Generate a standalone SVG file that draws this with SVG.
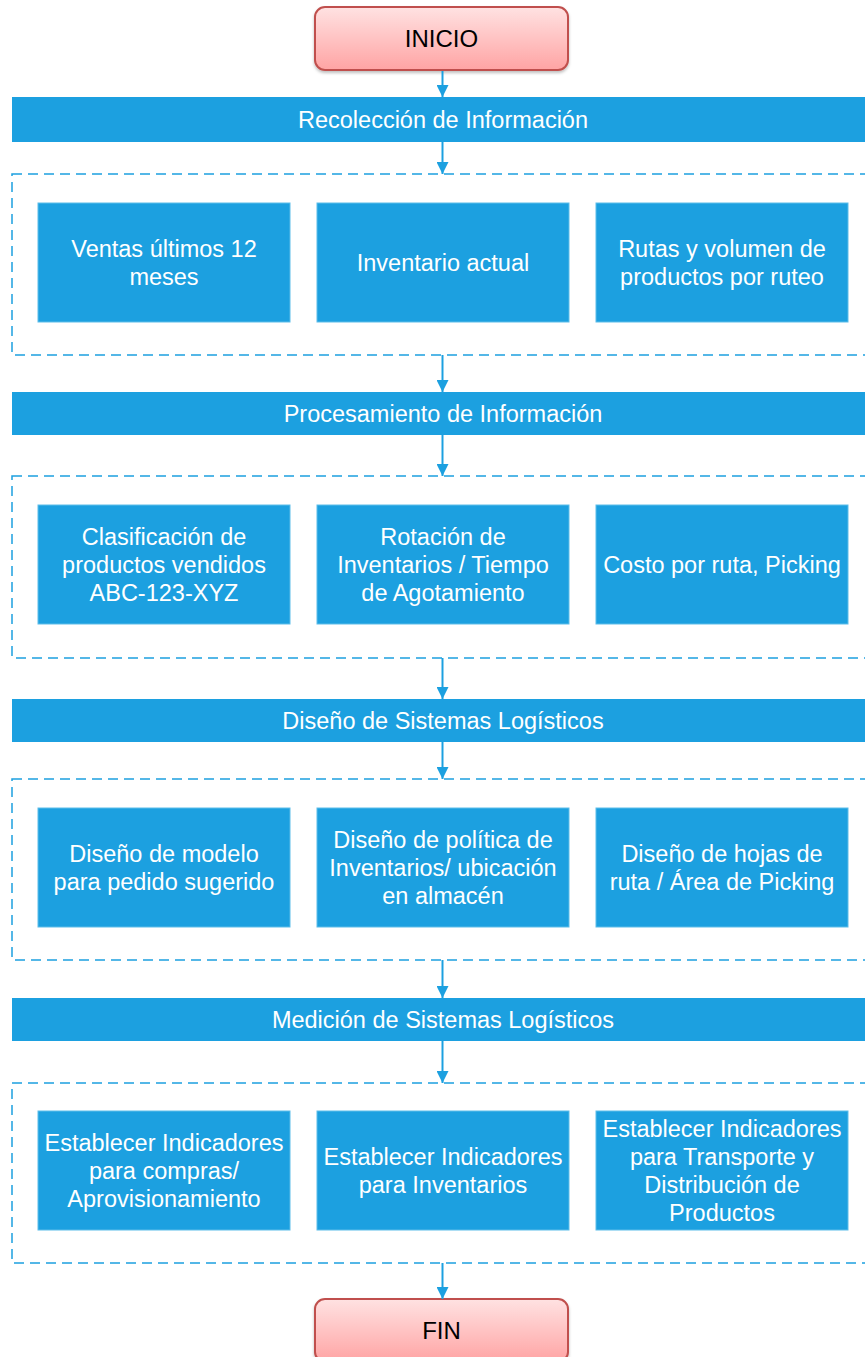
<svg xmlns="http://www.w3.org/2000/svg" width="865" height="1357" viewBox="0 0 865 1357">
<defs>
<linearGradient id="pink" x1="0" y1="0" x2="0" y2="1">
<stop offset="0" stop-color="#ffe2e2"/>
<stop offset="1" stop-color="#ffa4a4"/>
</linearGradient>
<marker id="ah" markerUnits="userSpaceOnUse" markerWidth="12" markerHeight="12" refX="12" refY="6" orient="auto">
<path d="M0,0 L12,6 L0,12 z" fill="#1ca0e0"/>
</marker>
<filter id="sh" x="-10%" y="-10%" width="120%" height="130%">
<feDropShadow dx="0" dy="2" stdDeviation="1.5" flood-color="#000" flood-opacity="0.25"/>
</filter>
</defs>
<style>
.term{fill:url(#pink);stroke:#c0504d;stroke-width:2;}
.termtxt{font-family:"Liberation Sans",Arial,sans-serif;font-size:24px;fill:#000;text-anchor:middle;}
.bar{fill:#1ca0e0;}
.box{fill:#1ca0e0;stroke:#5cbde9;stroke-width:1;}
.cont{fill:none;stroke:#1ca0e0;stroke-width:1.5;stroke-dasharray:10 6;}
.txt{font-family:"Liberation Sans",Arial,sans-serif;font-size:23.5px;fill:#fff;text-anchor:middle;}
.conn{stroke:#1ca0e0;stroke-width:2;fill:none;marker-end:url(#ah);}
</style>

<g id="containers">
<rect class="cont" x="12" y="174" width="900" height="181"/>
<rect class="cont" x="12" y="476" width="900" height="182"/>
<rect class="cont" x="12" y="779" width="900" height="181"/>
<rect class="cont" x="12" y="1083" width="900" height="180"/>
</g>

<g id="inicio">
<rect class="term" x="315" y="7" width="253" height="63" rx="10" filter="url(#sh)"/>
<text class="termtxt" x="441.5" y="47">INICIO</text>
</g>

<g id="bar1">
<rect class="bar" x="12" y="97" width="860" height="45"/>
<text class="txt" x="443" y="128">Recolección de Información</text>
</g>
<g id="n1a">
<rect class="box" x="38" y="203" width="252" height="119"/>
<text class="txt" x="164" y="256.5">Ventas últimos 12</text>
<text class="txt" x="164" y="284.5">meses</text>
</g>
<g id="n1b">
<rect class="box" x="317" y="203" width="252" height="119"/>
<text class="txt" x="443" y="270.5">Inventario actual</text>
</g>
<g id="n1c">
<rect class="box" x="596" y="203" width="252" height="119"/>
<text class="txt" x="722" y="256.5">Rutas y volumen de</text>
<text class="txt" x="722" y="284.5">productos por ruteo</text>
</g>

<g id="bar2">
<rect class="bar" x="12" y="392" width="860" height="43"/>
<text class="txt" x="443" y="422">Procesamiento de Información</text>
</g>
<g id="n2a">
<rect class="box" x="38" y="505" width="252" height="119"/>
<text class="txt" x="164" y="544.5">Clasificación de</text>
<text class="txt" x="164" y="572.5">productos vendidos</text>
<text class="txt" x="164" y="600.5">ABC-123-XYZ</text>
</g>
<g id="n2b">
<rect class="box" x="317" y="505" width="252" height="119"/>
<text class="txt" x="443" y="544.5">Rotación de</text>
<text class="txt" x="443" y="572.5">Inventarios / Tiempo</text>
<text class="txt" x="443" y="600.5">de Agotamiento</text>
</g>
<g id="n2c">
<rect class="box" x="596" y="505" width="252" height="119"/>
<text class="txt" x="722" y="572.5">Costo por ruta, Picking</text>
</g>

<g id="bar3">
<rect class="bar" x="12" y="699" width="860" height="43"/>
<text class="txt" x="443" y="729">Diseño de Sistemas Logísticos</text>
</g>
<g id="n3a">
<rect class="box" x="38" y="808" width="252" height="119"/>
<text class="txt" x="164" y="861.5">Diseño de modelo</text>
<text class="txt" x="164" y="889.5">para pedido sugerido</text>
</g>
<g id="n3b">
<rect class="box" x="317" y="808" width="252" height="119"/>
<text class="txt" x="443" y="847.5">Diseño de política de</text>
<text class="txt" x="443" y="875.5">Inventarios/ ubicación</text>
<text class="txt" x="443" y="903.5">en almacén</text>
</g>
<g id="n3c">
<rect class="box" x="596" y="808" width="252" height="119"/>
<text class="txt" x="722" y="861.5">Diseño de hojas de</text>
<text class="txt" x="722" y="889.5">ruta / Área de Picking</text>
</g>

<g id="bar4">
<rect class="bar" x="12" y="998" width="860" height="43"/>
<text class="txt" x="443" y="1028">Medición de Sistemas Logísticos</text>
</g>
<g id="n4a">
<rect class="box" x="38" y="1111" width="252" height="119"/>
<text class="txt" x="164" y="1150.5">Establecer Indicadores</text>
<text class="txt" x="164" y="1178.5">para compras/</text>
<text class="txt" x="164" y="1206.5">Aprovisionamiento</text>
</g>
<g id="n4b">
<rect class="box" x="317" y="1111" width="252" height="119"/>
<text class="txt" x="443" y="1164.5">Establecer Indicadores</text>
<text class="txt" x="443" y="1192.5">para Inventarios</text>
</g>
<g id="n4c">
<rect class="box" x="596" y="1111" width="252" height="119"/>
<text class="txt" x="722" y="1136.5">Establecer Indicadores</text>
<text class="txt" x="722" y="1164.5">para Transporte y</text>
<text class="txt" x="722" y="1192.5">Distribución de</text>
<text class="txt" x="722" y="1220.5">Productos</text>
</g>

<g id="fin">
<rect class="term" x="315" y="1299" width="253" height="63" rx="10" filter="url(#sh)"/>
<text class="termtxt" x="441.5" y="1339">FIN</text>
</g>

<g id="connectors">
<line class="conn" x1="442.5" y1="71" x2="442.5" y2="97"/>
<line class="conn" x1="442.5" y1="142" x2="442.5" y2="174"/>
<line class="conn" x1="442.5" y1="355" x2="442.5" y2="392"/>
<line class="conn" x1="442.5" y1="435" x2="442.5" y2="476"/>
<line class="conn" x1="442.5" y1="658" x2="442.5" y2="699"/>
<line class="conn" x1="442.5" y1="742" x2="442.5" y2="779"/>
<line class="conn" x1="442.5" y1="960" x2="442.5" y2="998"/>
<line class="conn" x1="442.5" y1="1041" x2="442.5" y2="1083"/>
<line class="conn" x1="442.5" y1="1263" x2="442.5" y2="1299"/>
</g>
</svg>
